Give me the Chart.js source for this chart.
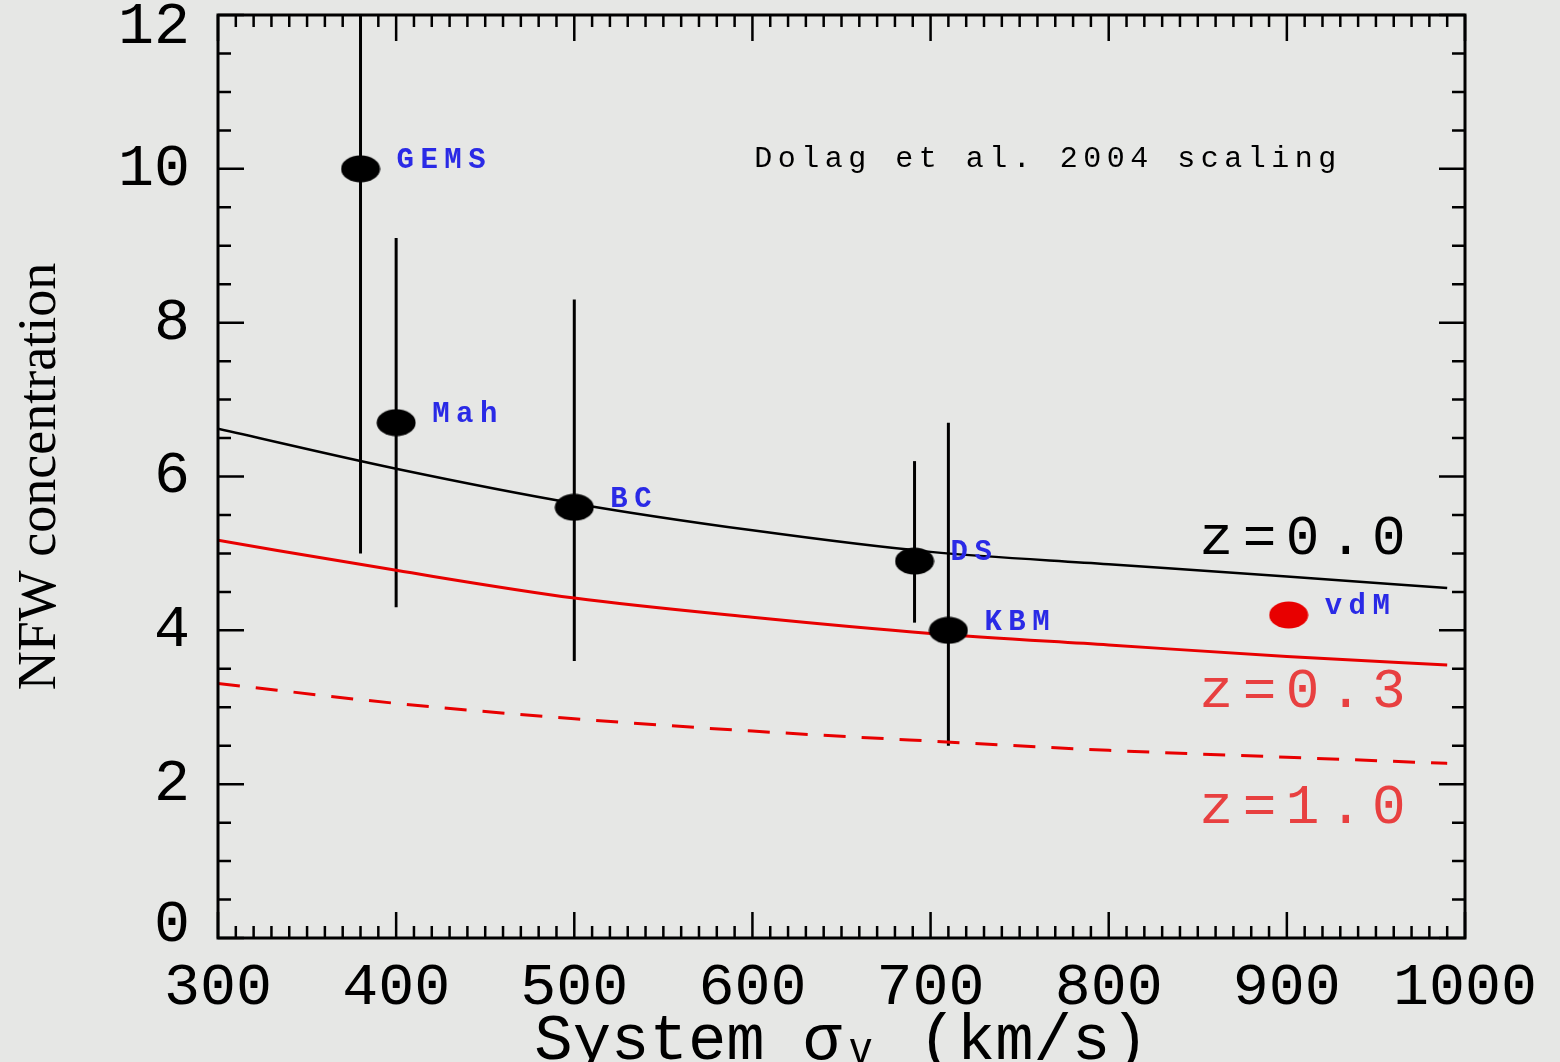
<!DOCTYPE html>
<html>
<head>
<meta charset="utf-8">
<script src="https://cdn.jsdelivr.net/npm/chart.js@4"></script>
<style>
  body { margin: 0; background: #e6e7e5; }
  canvas { display: block; }
</style>
</head>
<body>
<canvas id="nfw" width="1560" height="1062"></canvas>
<script>
// measured groups
const ptNames = ["GEMS", "Mah", "BC", "DS", "KBM", "vdM"];
const ptSigma = [380, 400, 500, 691, 710, 901];
const ptConc = [10.0, 6.7, 5.6, 4.9, 4.0, 4.2];
const ptLow = [5.0, 4.3, 3.6, 4.1, 2.5, null];
const ptHigh = [12.5, 9.1, 8.3, 6.2, 6.7, null];

// Dolag et al. 2004 scaling curves
const curveSigma = [300, 400, 500, 600, 700, 800, 900, 990];
const concZ00 = [6.62, 6.10, 5.65, 5.30, 5.02, 4.86, 4.70, 4.55];
const concZ03 = [5.17, 4.78, 4.42, 4.17, 3.96, 3.81, 3.66, 3.55];
const concZ10 = [3.31, 3.05, 2.85, 2.69, 2.56, 2.44, 2.35, 2.27];

const curveNames = ["z=0.0", "z=0.3", "z=1.0"];
const curveLabelConc = [5.19, 3.19, 1.69];
const curveLabelSigma = 851;
const noteText = "Dolag et al. 2004 scaling";

const xTicks = [300, 400, 500, 600, 700, 800, 900, 1000];
const yTicks = [0, 2, 4, 6, 8, 10, 12];

const MONO = "'Liberation Mono', 'DejaVu Sans Mono', monospace";
const SERIF = "'Liberation Serif', 'DejaVu Serif', serif";

function blob(color) {
  const c = document.createElement("canvas");
  c.width = 40; c.height = 28;
  const g = c.getContext("2d");
  g.fillStyle = color;
  g.beginPath();
  g.ellipse(20, 14, 19.5, 13.5, 0, 0, Math.PI * 2);
  g.fill();
  return c;
}
const blackBlob = blob("#000000");
const redBlob = blob("#e80000");

const bg = {
  id: "bg",
  beforeDraw(chart) {
    const ctx = chart.ctx;
    ctx.save();
    ctx.fillStyle = "#e6e7e5";
    ctx.fillRect(0, 0, chart.width, chart.height);
    ctx.restore();
  }
};

const errorBars = {
  id: "errorBars",
  beforeDatasetsDraw(chart) {
    const ctx = chart.ctx, x = chart.scales.x, y = chart.scales.y, a = chart.chartArea;
    ctx.save();
    ctx.beginPath();
    ctx.rect(a.left, a.top, a.right - a.left, a.bottom - a.top);
    ctx.clip();
    ctx.strokeStyle = "#000";
    ctx.lineWidth = 3;
    ptSigma.forEach((s, i) => {
      if (ptLow[i] == null) return;
      const px = x.getPixelForValue(s);
      ctx.beginPath();
      ctx.moveTo(px, y.getPixelForValue(ptLow[i]));
      ctx.lineTo(px, y.getPixelForValue(ptHigh[i]));
      ctx.stroke();
    });
    ctx.restore();
  }
};

const frame = {
  id: "frame",
  afterDraw(chart) {
    const ctx = chart.ctx, x = chart.scales.x, y = chart.scales.y, a = chart.chartArea;
    ctx.save();
    ctx.strokeStyle = "#000";
    ctx.lineWidth = 3;
    ctx.strokeRect(a.left, a.top, a.right - a.left, a.bottom - a.top);
    ctx.lineWidth = 2.5;
    ctx.beginPath();
    for (let v = 300; v <= 1000; v += 10) {
      const px = x.getPixelForValue(v);
      const len = v % 100 === 0 ? 26 : 12;
      ctx.moveTo(px, a.bottom); ctx.lineTo(px, a.bottom - len);
      ctx.moveTo(px, a.top); ctx.lineTo(px, a.top + len);
    }
    for (let v = 0; v <= 12; v += 0.5) {
      const py = y.getPixelForValue(v);
      const len = v % 2 === 0 ? 26 : 13;
      ctx.moveTo(a.left, py); ctx.lineTo(a.left + len, py);
      ctx.moveTo(a.right, py); ctx.lineTo(a.right - len, py);
    }
    ctx.stroke();

    // text notes
    ctx.textBaseline = "middle";
    ctx.textAlign = "left";
    ctx.fillStyle = "#000";
    ctx.letterSpacing = "5.5px";
    ctx.font = "30px " + MONO;
    ctx.fillText(noteText, x.getPixelForValue(601), y.getPixelForValue(10.13));

    ctx.font = "bold 29px " + MONO;
    ctx.fillStyle = "#2a2ae6";
    ctx.letterSpacing = "6.5px";
    ptNames.forEach((n, i) => {
      ctx.fillText(n, x.getPixelForValue(ptSigma[i]) + 36, y.getPixelForValue(ptConc[i]) - 8);
    });

    ctx.font = "56px " + MONO;
    ctx.letterSpacing = "9.5px";
    const cols = ["#000000", "#e84040", "#e84040"];
    curveNames.forEach((n, i) => {
      ctx.fillStyle = cols[i];
      ctx.fillText(n, x.getPixelForValue(curveLabelSigma), y.getPixelForValue(curveLabelConc[i]));
    });
    ctx.restore();
  }
};

new Chart(document.getElementById("nfw"), {
  type: "scatter",
  data: {
    datasets: [
      {
        label: "groups",
        data: ptSigma.map((s, i) => ({ x: s, y: ptConc[i] })),
        pointStyle: ptNames.map(n => n === "vdM" ? redBlob : blackBlob),
        pointRadius: 14,
        showLine: false,
        order: 0
      },
      {
        label: "z=0.0",
        data: curveSigma.map((s, i) => ({ x: s, y: concZ00[i] })),
        showLine: true,
        borderColor: "#000000",
        borderWidth: 2.5,
        pointRadius: 0,
        cubicInterpolationMode: "monotone",
        order: 1
      },
      {
        label: "z=0.3",
        data: curveSigma.map((s, i) => ({ x: s, y: concZ03[i] })),
        showLine: true,
        borderColor: "#e80000",
        borderWidth: 3,
        pointRadius: 0,
        cubicInterpolationMode: "monotone",
        order: 2
      },
      {
        label: "z=1.0",
        data: curveSigma.map((s, i) => ({ x: s, y: concZ10[i] })),
        showLine: true,
        borderColor: "#e80000",
        borderWidth: 3,
        borderDash: [22, 16],
        pointRadius: 0,
        cubicInterpolationMode: "monotone",
        order: 3
      }
    ]
  },
  options: {
    responsive: false,
    animation: false,
    layout: { padding: { top: 14, right: 95, left: 0, bottom: 0 } },
    plugins: { legend: { display: false }, tooltip: { enabled: false } },
    scales: {
      x: {
        type: "linear",
        min: 300,
        max: 1000,
        grid: { display: false },
        border: { display: false },
        afterBuildTicks: s => { s.ticks = xTicks.map(v => ({ value: v })); },
        afterFit: s => { s.height = 124; s.paddingLeft = 0; s.paddingRight = 0; },
        ticks: {
          color: "#000", padding: 6, maxRotation: 0,
          callback: v => String(v),
          font: { family: MONO, size: 60 }
        },
        title: {
          display: true,
          text: "System σᵥ (km/s)",
          color: "#000",
          padding: { top: 0, bottom: -12 },
          font: { family: MONO, size: 64, lineHeight: 1 }
        }
      },
      y: {
        min: 0,
        max: 12,
        grid: { display: false },
        border: { display: false },
        afterBuildTicks: s => { s.ticks = yTicks.map(v => ({ value: v })); },
        afterFit: s => { s.width = 218; s.paddingTop = 0; s.paddingBottom = 0; },
        ticks: {
          color: "#000", padding: 20,
          // end labels are pulled inside the frame, as in the original
          callback: v => v === 12 ? ["", "12"] : v === 0 ? ["0", ""] : String(v),
          font: { family: MONO, size: 60, lineHeight: 0.42 }
        },
        title: {
          display: true,
          text: "NFW concentration",
          color: "#000",
          padding: { top: 14, bottom: 0 },
          font: { family: SERIF, size: 54, lineHeight: 1 }
        }
      }
    }
  },
  plugins: [bg, errorBars, frame]
});
</script>
</body>
</html>
